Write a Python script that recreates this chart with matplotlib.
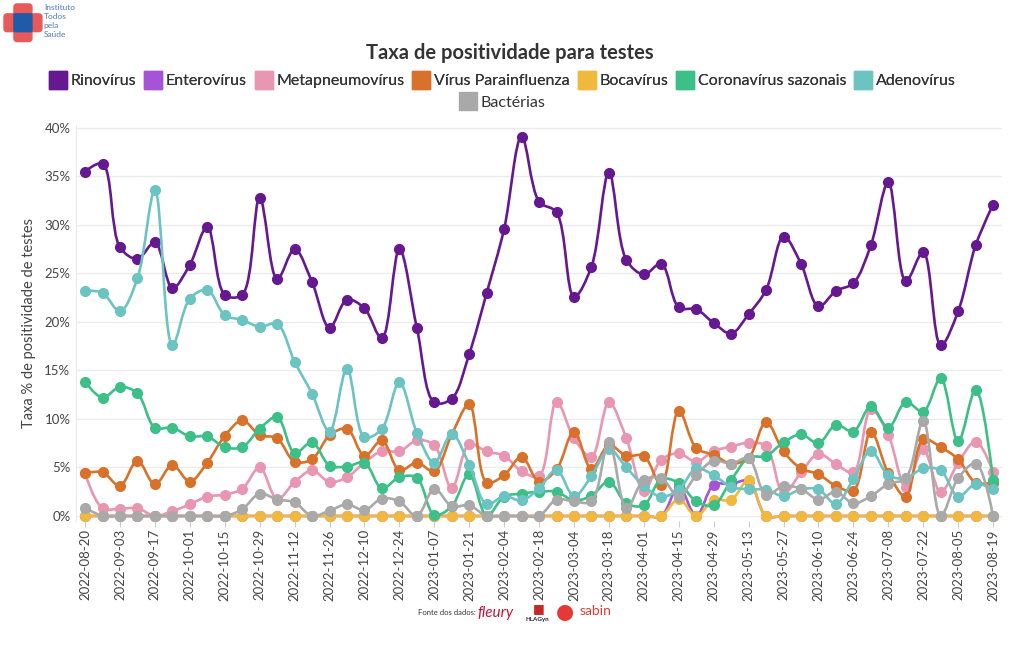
import numpy as np
import pandas as pd
import matplotlib
matplotlib.use("Agg")
import matplotlib.pyplot as plt
import matplotlib.dates as mdates
from matplotlib.path import Path
from matplotlib.patches import PathPatch, FancyBboxPatch
from matplotlib.lines import Line2D

plt.rcParams['font.family'] = ['Lato', 'DejaVu Sans']

# weekly dates
datas = pd.date_range('2022-08-20', '2023-08-19', freq='7D')

rinovirus = [35.5, 36.3, 27.7, 26.5, 28.2, 23.5, 25.9, 29.8, 22.8, 22.8,
             32.8, 24.4, 27.5, 24.1, 19.4, 22.3, 21.4, 18.3, 27.5, 19.4,
             11.7, 12.1, 16.7, 23.0, 29.6, 39.1, 32.4, 31.3, 22.6, 25.7,
             35.4, 26.4, 24.9, 26.0, 21.5, 21.3, 19.9, 18.8, 20.8, 23.3,
             28.8, 26.0, 21.6, 23.2, 24.0, 27.9, 34.4, 24.2, 27.2, 17.6,
             21.1, 27.9, 32.1]
enterovirus = [0] * 34 + [3.0, 0, 3.2, 3.3, 3.6] + [0] * 14
metapneumovirus = [4.4, 0.8, 0.75, 0.8, 0.0, 0.5, 1.2, 2.0, 2.2, 2.8,
                   5.0, 1.75, 3.5, 4.7, 3.5, 4.0, 5.5, 6.7, 6.65, 7.8,
                   7.3, 2.85, 7.4, 6.65, 6.2, 4.6, 4.1, 11.8, 8.0, 6.1,
                   11.7, 8.0, 2.6, 5.8, 6.45, 5.6, 6.7, 7.15, 7.55, 7.2,
                   2.3, 4.5, 6.4, 5.35, 4.5, 11.0, 8.35, 3.0, 6.9, 2.45,
                   5.5, 7.65, 4.55]
parainfluenza = [4.4, 4.5, 3.1, 5.7, 3.25, 5.25, 3.55, 5.5, 8.25, 9.85,
                 8.35, 8.0, 5.6, 5.85, 8.3, 9.0, 6.2, 7.8, 4.7, 5.5,
                 4.6, 8.4, 11.5, 3.45, 4.2, 6.1, 3.55, 4.8, 8.7, 4.85,
                 7.3, 6.2, 6.2, 3.2, 10.85, 7.0, 6.3, 5.4, 6.0, 9.7,
                 6.65, 4.9, 4.3, 3.1, 2.6, 8.7, 4.4, 2.0, 7.9, 7.1,
                 5.85, 3.45, 3.45]
bocavirus = [0] * 34 + [1.75, 0, 1.65, 1.65, 3.7] + [0] * 14
coronavirus = [13.85, 12.2, 13.3, 12.65, 9.1, 9.1, 8.2, 8.2, 7.1, 7.1,
               9.0, 10.2, 6.5, 7.6, 5.2, 5.1, 5.5, 2.85, 4.0, 3.95,
               0.1, 1.0, 4.3, 0.0, 2.0, 2.3, 2.5, 2.5, 1.6, 2.1,
               3.55, 1.3, 1.1, 3.8, 3.4, 1.5, 1.1, 3.7, 6.0, 6.2,
               7.6, 8.4, 7.5, 9.4, 8.7, 11.3, 9.1, 11.75, 10.75, 14.2,
               7.7, 13.0, 3.7]
adenovirus = [23.2, 23.0, 21.1, 24.5, 33.6, 17.6, 22.4, 23.3, 20.7, 20.2,
              19.5, 19.8, 15.9, 12.6, 8.7, 15.2, 8.1, 9.0, 13.8, 8.6,
              5.5, 8.45, 5.3, 1.2, 2.05, 1.6, 2.85, 4.75, 2.05, 4.1,
              6.9, 5.0, 3.1, 2.0, 2.7, 4.9, 4.2, 3.0, 2.75, 2.7,
              2.05, 2.75, 2.75, 1.25, 3.8, 6.7, 4.2, 3.9, 4.9, 4.7,
              2.0, 3.3, 2.75]
bacterias = [0.85, 0, 0, 0, 0, 0, 0, 0, 0, 0.7,
             2.3, 1.7, 1.4, 0, 0.55, 1.2, 0.6, 1.8, 1.5, 0,
             2.8, 1.0, 1.1, 0, 0, 0, 0, 1.7, 1.5, 1.5,
             7.6, 0.8, 3.7, 3.9, 2.0, 4.2, 5.7, 5.4, 5.95, 2.15,
             3.1, 2.8, 1.7, 2.5, 1.3, 2.05, 3.3, 3.9, 9.8, 0,
             3.9, 5.4, 0]

series = [
    ('Rinovírus', rinovirus, '#65188f'),
    ('Enterovírus', enterovirus, '#a653d6'),
    ('Metapneumovírus', metapneumovirus, '#e996b3'),
    ('Vírus Parainfluenza', parainfluenza, '#d8722a'),
    ('Bocavírus', bocavirus, '#f1b83e'),
    ('Coronavírus sazonais', coronavirus, '#3dbf88'),
    ('Adenovírus', adenovirus, '#6cc4c2'),
    ('Bactérias', bacterias, '#a9a9a9'),
]


def spline_path(x, y, sx, sy, smooth=1.0):
    # plotly-like catmull-rom spline, computed in pixel-ish space
    pts = np.column_stack([np.asarray(x) * sx, np.asarray(y) * sy])
    n = len(pts)
    tang = []
    for i in range(1, n - 1):
        d1 = pts[i - 1] - pts[i]
        d2 = pts[i + 1] - pts[i]
        d1a = (d1 @ d1) ** 0.25
        d2a = (d2 @ d2) ** 0.25
        num = (d2a * d2a * d1 - d1a * d1a * d2) * smooth
        den1 = 3 * d2a * (d1a + d2a)
        den2 = 3 * d1a * (d1a + d2a)
        t0 = pts[i] + (num / den1 if den1 else 0)
        t1 = pts[i] - (num / den2 if den2 else 0)
        tang.append((t0, t1))
    verts = [pts[0], tang[0][0], pts[1]]
    codes = [Path.MOVETO, Path.CURVE3, Path.CURVE3]
    for i in range(2, n - 1):
        verts += [tang[i - 2][1], tang[i - 1][0], pts[i]]
        codes += [Path.CURVE4] * 3
    verts += [tang[n - 3][1], pts[n - 1]]
    codes += [Path.CURVE3] * 2
    verts = np.array(verts) / np.array([sx, sy])
    return Path(verts, codes)


fig = plt.figure(figsize=(10.2, 6.5), dpi=100)
ax = fig.add_axes([0.0745, 0.1987, 0.908, 0.609])

xnum = mdates.date2num(datas)
sx = 17.46 / 7.0
sy = 9.7

for k, (nome, vals, cor) in enumerate(series):
    p = spline_path(xnum, vals, sx, sy)
    ax.add_patch(PathPatch(p, facecolor='none', edgecolor=cor, lw=1.9,
                           zorder=2 + k, capstyle='round', joinstyle='round'))
    ax.plot(datas, vals, 'o', color=cor, ms=7, zorder=2 + k, clip_on=False)

ax.set_ylim(-0.5, 40.3)
ax.set_xlim(xnum[0] - 0.52 * 7, xnum[-1] + 0.52 * 7)
ax.set_yticks(range(0, 41, 5))
ax.set_yticklabels([f'{v}%' for v in range(0, 41, 5)])
ax.set_xticks(datas[::2])
ax.xaxis.set_major_formatter(mdates.DateFormatter('%Y-%m-%d'))
plt.setp(ax.get_xticklabels(), rotation=90)
ax.tick_params(axis='x', colors='#444444', labelsize=9.5, length=4, color='#cccccc', pad=2)
ax.tick_params(axis='y', colors='#444444', labelsize=9.5, length=0, pad=4)
ax.grid(axis='y', color='#ebebeb', lw=1)
ax.set_axisbelow(True)
for s in ['top', 'right', 'bottom']:
    ax.spines[s].set_visible(False)
ax.spines['left'].set_color('#ebebeb')
ax.set_ylabel('Taxa % de positividade de testes', fontsize=10.5, color='#444444', labelpad=6)

fig.text(0.5, 0.918, 'Taxa de positividade para testes', ha='center', va='center',
         fontsize=14.5, fontweight='bold', color='#333333')

handles = [Line2D([], [], marker='s', ls='none', color=c, ms=13) for _, _, c in series]
nomes = [n for n, _, _ in series]
leg1 = fig.legend(handles[:7], nomes[:7], loc='center', bbox_to_anchor=(0.493, 0.875),
                  ncol=7, frameon=False, fontsize=11.5, handletextpad=0.3,
                  columnspacing=0.55, handlelength=1.0, labelcolor='#333333')
fig.legend(handles[7:], nomes[7:], loc='center', bbox_to_anchor=(0.493, 0.842),
           ncol=1, frameon=False, fontsize=11.5, handletextpad=0.3,
           handlelength=1.0, labelcolor='#333333')
fig.add_artist(leg1)

# logo top left
lx = fig.add_axes([0.0, 0.93, 0.045, 0.07])
lx.set_xlim(0, 46)
lx.set_ylim(0, 46)
lx.axis('off')
lx.add_patch(FancyBboxPatch((14, 4), 18, 38, boxstyle='round,pad=0,rounding_size=3', color='#e85a5a'))
lx.add_patch(FancyBboxPatch((4, 14), 38, 18, boxstyle='round,pad=0,rounding_size=3', color='#e85a5a'))
lx.add_patch(FancyBboxPatch((14, 14), 18, 18, boxstyle='round,pad=0,rounding_size=1', color='#1f5ba8'))
for i, t in enumerate(['Instituto', 'Todos', 'pela', 'Saúde']):
    fig.text(0.043, 0.988 - i * 0.0135, t, fontsize=6, color='#4a7bbd', va='center')

# data sources footer
fig.text(0.41, 0.057, 'Fonte dos dados:', fontsize=5.5, color='#333333', va='center')
fig.text(0.468, 0.057, 'fleury', fontsize=11, style='italic', color='#c4123c', va='center')
fig.text(0.515, 0.047, 'HLAGyn', fontsize=4.5, fontweight='bold', color='#222222', va='center')
fig.text(0.522, 0.065, '■', fontsize=9, color='#c62828', va='center')
fig.text(0.545, 0.058, '●', fontsize=15, color='#e53935', va='center', family='DejaVu Sans')
fig.text(0.568, 0.06, 'sabin', fontsize=10, color='#e53935', va='center')

fig.savefig('out.png', dpi=100)
